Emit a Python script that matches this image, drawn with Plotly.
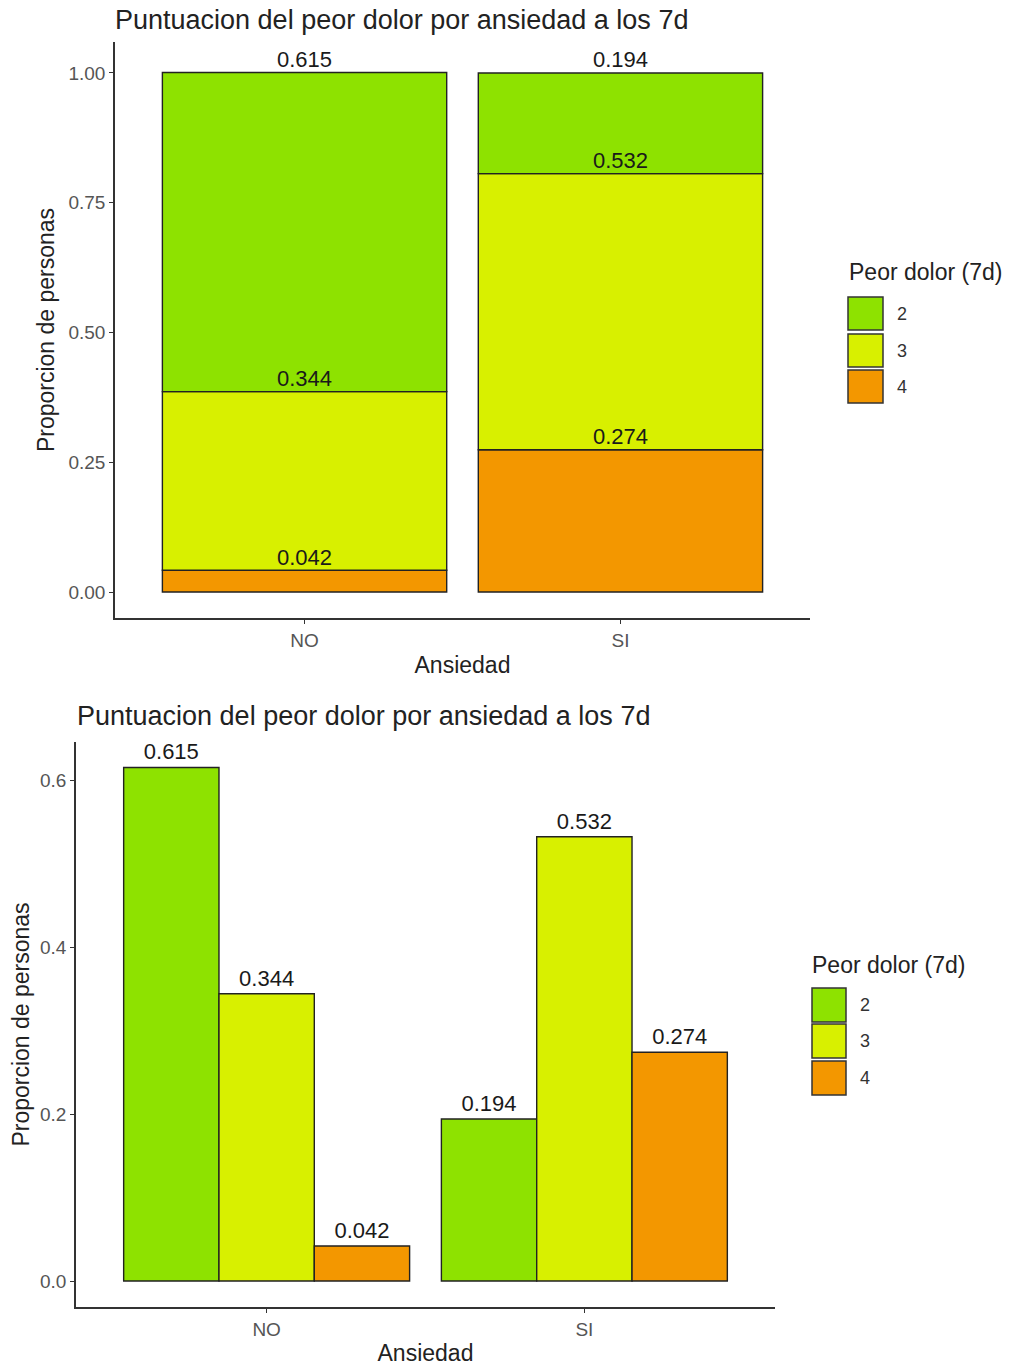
import plotly.graph_objects as go

# ---- data ----
anxiety = ["NO", "SI"]
pain_levels = ["2", "3", "4"]
prop_2 = [0.615, 0.194]
prop_3 = [0.344, 0.532]
prop_4 = [0.042, 0.274]
y_ticks_top = [0.0, 0.25, 0.50, 0.75, 1.00]
y_ticks_bottom = [0.0, 0.2, 0.4, 0.6]

title_text = "Puntuacion del peor dolor por ansiedad a los 7d"
x_title = "Ansiedad"
y_title = "Proporcion de personas"
legend_title = "Peor dolor (7d)"

# ---- style ----
W, H = 1013, 1366
FONT = "Liberation Sans, Arial, sans-serif"
colors = {"2": "#8EE200", "3": "#D8F000", "4": "#F39700"}
outline = dict(color="#222222", width=1.4)
values = {"2": prop_2, "3": prop_3, "4": prop_4}
LABEL_SIZE = 22
TICK_SIZE = 19
AXTITLE_SIZE = 23
TITLE_SIZE = 27


def px(x):
    return x / W


def py(y):
    return 1 - y / H


fig = go.Figure()

# ---- top: stacked proportions (stack order 4 bottom, 3, 2 top) ----
stack_order = ["4", "3", "2"]
base = [0.0, 0.0]
for lvl in stack_order:
    vals = values[lvl]
    fig.add_trace(go.Bar(
        x=anxiety, y=vals, base=list(base), width=0.9,
        marker=dict(color=colors[lvl], line=outline),
        name=lvl, showlegend=False, xaxis="x", yaxis="y",
        hoverinfo="skip",
    ))
    tops = [b + v for b, v in zip(base, vals)]
    fig.add_trace(go.Scatter(
        x=anxiety, y=tops, mode="text", text=[f"{v:.3f}" for v in vals],
        textposition="top center",
        textfont=dict(family=FONT, size=LABEL_SIZE, color="#1a1a1a"),
        showlegend=False, xaxis="x", yaxis="y", hoverinfo="skip",
        cliponaxis=False,
    ))
    base = tops

# ---- bottom: grouped bars ----
offsets = {"2": -0.45, "3": -0.15, "4": 0.15}
for lvl in pain_levels:
    vals = values[lvl]
    fig.add_trace(go.Bar(
        x=anxiety, y=vals, width=0.3, offset=offsets[lvl],
        marker=dict(color=colors[lvl], line=outline),
        text=[f"{v:.3f}" for v in vals], textposition="outside",
        textfont=dict(family=FONT, size=LABEL_SIZE, color="#1a1a1a"),
        constraintext="none", cliponaxis=False,
        name=lvl, showlegend=False, xaxis="x2", yaxis="y2",
        hoverinfo="skip",
    ))

axis_common = dict(
    showline=True, linecolor="#333333", linewidth=1.5,
    ticks="outside", ticklen=4, tickcolor="#333333", tickwidth=1.2,
    showgrid=False, zeroline=False,
    tickfont=dict(family=FONT, size=TICK_SIZE, color="#555555"),
)
axtitle_font = dict(family=FONT, size=AXTITLE_SIZE, color="#222222")

fig.update_layout(
    width=W, height=H,
    margin=dict(l=0, r=0, t=0, b=0),
    paper_bgcolor="white", plot_bgcolor="white",
    barmode="overlay",
    font=dict(family=FONT),
    xaxis=dict(**axis_common, domain=[px(115), px(810)], anchor="y",
               type="category", range=[-0.6, 1.6],
               title=dict(text=x_title, standoff=7, font=axtitle_font)),
    yaxis=dict(**axis_common, domain=[py(618), py(42)], anchor="x",
               range=[-0.0501, 1.0597], tickvals=y_ticks_top,
               ticktext=[f"{v:.2f}" for v in y_ticks_top],
               title=dict(text=y_title, standoff=7, font=axtitle_font)),
    xaxis2=dict(**axis_common, domain=[px(76), px(775)], anchor="y2",
                type="category", range=[-0.6, 1.6],
                title=dict(text=x_title, standoff=7, font=axtitle_font)),
    yaxis2=dict(**axis_common, domain=[py(1307), py(742)], anchor="x2",
                range=[-0.0311, 0.6455], tickvals=y_ticks_bottom,
                ticktext=[f"{v:.1f}" for v in y_ticks_bottom],
                title=dict(text=y_title, standoff=4, font=axtitle_font)),
)

annotations = [
    dict(text=title_text, xref="paper", yref="paper", x=px(113), y=py(20),
         xanchor="left", yanchor="middle", showarrow=False,
         font=dict(family=FONT, size=TITLE_SIZE, color="#222222")),
    dict(text=title_text, xref="paper", yref="paper", x=px(75), y=py(716),
         xanchor="left", yanchor="middle", showarrow=False,
         font=dict(family=FONT, size=TITLE_SIZE, color="#222222")),
]
shapes = []

# manual legends (large keys like ggplot)
legend_specs = [
    dict(title_x=847, title_y=272, box_x=848, box_y=[297, 334, 370], box_h=33, box_w=35, label_x=895),
    dict(title_x=810, title_y=965, box_x=812, box_y=[988, 1024, 1061], box_h=34, box_w=34, label_x=858),
]
for spec in legend_specs:
    annotations.append(dict(
        text=legend_title, xref="paper", yref="paper",
        x=px(spec["title_x"]), y=py(spec["title_y"]),
        xanchor="left", yanchor="middle", showarrow=False,
        font=dict(family=FONT, size=AXTITLE_SIZE, color="#222222")))
    for lvl, by in zip(pain_levels, spec["box_y"]):
        shapes.append(dict(
            type="rect", xref="paper", yref="paper",
            x0=px(spec["box_x"]), x1=px(spec["box_x"] + spec["box_w"]),
            y0=py(by + spec["box_h"]), y1=py(by),
            fillcolor=colors[lvl], line=dict(color="#333333", width=1.5)))
        annotations.append(dict(
            text=lvl, xref="paper", yref="paper",
            x=px(spec["label_x"]), y=py(by + spec["box_h"] / 2),
            xanchor="left", yanchor="middle", showarrow=False,
            font=dict(family=FONT, size=18, color="#333333")))

fig.update_layout(annotations=annotations, shapes=shapes)
fig.write_html("out.html", config={"displayModeBar": False},
               post_script="document.body.style.margin='0';")
